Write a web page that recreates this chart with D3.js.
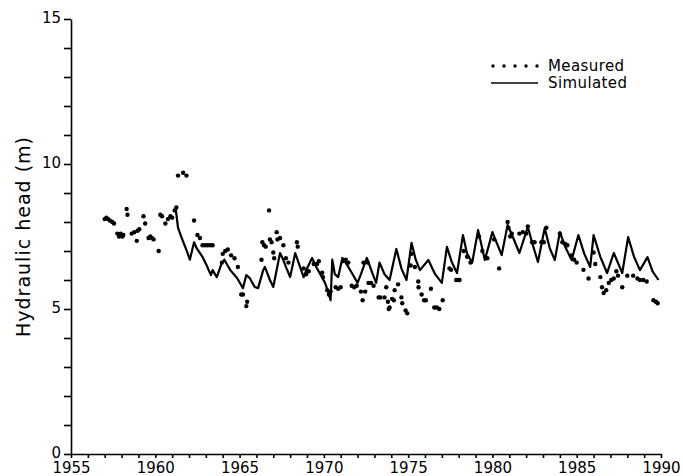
<!DOCTYPE html>
<html>
<head>
<meta charset="utf-8">
<script src="https://cdn.jsdelivr.net/npm/d3@7"></script>
<style>
  body { margin: 0; background: #fff; }
  svg text { font-family: "DejaVu Sans", sans-serif; fill: #000; }
  .axis path, .axis line { stroke: #000; stroke-width: 1.6; }
  .axis text { font-size: 15px; }
</style>
</head>
<body>
<svg class="head" width="683" height="476"></svg>
<script>
// years (decimal) and hydraulic head (m)
const simulated = [
  [1961.2, 8.5], [1961.35, 7.8], [1961.6, 7.4], [1961.9, 6.95], [1962.05, 6.7], [1962.3, 7.3],
  [1962.45, 7.1], [1962.8, 6.8], [1963.05, 6.5], [1963.3, 6.17], [1963.4, 6.34], [1963.65, 6.1],
  [1963.95, 6.6], [1964.1, 6.7], [1964.45, 6.34], [1964.85, 6.07], [1965.2, 5.72], [1965.4, 6.17],
  [1965.6, 6.07], [1965.9, 5.76], [1966.1, 5.72], [1966.4, 6.34], [1966.5, 6.45], [1966.8, 6.0],
  [1967.0, 5.76], [1967.4, 6.93], [1967.55, 6.75], [1967.75, 6.45], [1968.0, 6.1], [1968.3, 6.93],
  [1968.5, 6.6], [1968.8, 6.1], [1969.0, 6.4], [1969.3, 6.76], [1969.55, 6.45], [1970.07, 5.9],
  [1970.25, 5.6], [1970.4, 5.3], [1970.5, 6.7], [1970.65, 6.2], [1970.85, 6.1], [1971.1, 6.76],
  [1971.3, 6.6], [1971.6, 6.3], [1972.0, 5.9], [1972.2, 6.2], [1972.55, 6.76], [1972.9, 6.2],
  [1973.1, 5.9], [1973.3, 6.6], [1973.6, 6.2], [1973.9, 6.0], [1974.3, 7.07], [1974.6, 6.4],
  [1974.9, 6.0], [1975.2, 7.28], [1975.45, 6.7], [1975.7, 6.34], [1976.2, 6.69], [1976.6, 6.2],
  [1977.0, 5.9], [1977.3, 7.14], [1977.6, 6.6], [1977.9, 6.24], [1978.25, 7.55], [1978.5, 6.9],
  [1978.8, 6.6], [1979.15, 7.72], [1979.55, 6.69], [1980.0, 7.65], [1980.55, 6.86], [1980.9, 7.9],
  [1981.2, 7.5], [1981.6, 6.93], [1982.1, 7.83], [1982.4, 7.2], [1982.7, 6.62], [1983.1, 7.79],
  [1983.4, 7.1], [1983.7, 6.69], [1984.0, 7.65], [1984.35, 7.1], [1984.7, 6.69], [1985.1, 7.55],
  [1985.45, 6.9], [1985.8, 6.45], [1986.0, 7.55], [1986.4, 6.8], [1986.8, 6.24], [1987.2, 6.93],
  [1987.7, 6.24], [1988.05, 7.48], [1988.4, 6.8], [1988.75, 6.34], [1989.2, 6.79], [1989.5, 6.3],
  [1989.85, 6.0]
];

const measured = [
  [1957.0, 8.1], [1957.1, 8.15], [1957.2, 8.1], [1957.3, 8.05], [1957.45, 8.0], [1957.55, 7.95],
  [1957.75, 7.6], [1957.85, 7.5], [1957.95, 7.6], [1958.05, 7.5], [1958.1, 7.55],
  [1958.3, 8.45], [1958.35, 8.25],
  [1958.6, 7.6], [1958.75, 7.65], [1958.9, 7.35], [1958.95, 7.7], [1959.05, 7.75],
  [1959.3, 8.2], [1959.4, 7.95],
  [1959.6, 7.45], [1959.7, 7.5], [1959.8, 7.45], [1959.9, 7.4], [1960.2, 7.0],
  [1960.3, 8.25], [1960.4, 8.2], [1960.6, 7.95], [1960.75, 8.1], [1960.9, 8.2], [1961.0, 8.15],
  [1961.15, 8.4], [1961.25, 8.5],
  [1961.35, 9.6], [1961.65, 9.7], [1961.85, 9.6],
  [1962.3, 8.05], [1962.5, 7.55], [1962.65, 7.45],
  [1962.8, 7.2], [1962.95, 7.2], [1963.1, 7.2], [1963.25, 7.2], [1963.4, 7.2],
  [1963.95, 6.6], [1964.0, 6.9], [1964.15, 7.0], [1964.3, 7.05], [1964.5, 6.85], [1964.7, 6.75], [1964.9, 6.45],
  [1965.1, 5.5], [1965.2, 5.5], [1965.45, 5.25], [1965.4, 5.1],
  [1966.3, 6.7], [1966.35, 7.3], [1966.45, 7.2], [1966.55, 7.15], [1966.75, 8.4], [1966.8, 7.4],
  [1966.9, 7.3], [1967.0, 6.95], [1967.05, 6.75],
  [1967.2, 7.65], [1967.25, 7.4], [1967.4, 7.45], [1967.6, 7.2], [1967.75, 6.75], [1967.9, 6.6],
  [1968.4, 7.3], [1968.45, 7.15], [1968.8, 6.4], [1968.95, 6.2], [1969.1, 6.3], [1969.4, 6.55],
  [1969.6, 6.55], [1969.7, 6.65], [1969.9, 6.25], [1969.95, 6.1],
  [1970.2, 5.65], [1970.3, 5.5], [1970.4, 5.6], [1970.7, 5.75], [1970.85, 5.7], [1971.0, 5.75],
  [1971.15, 6.65], [1971.3, 6.7], [1971.45, 6.6],
  [1971.65, 5.8], [1971.8, 5.75], [1971.95, 5.8],
  [1972.2, 5.6], [1972.3, 5.3], [1972.45, 5.6], [1972.35, 6.6], [1972.6, 6.6],
  [1972.65, 5.9], [1972.8, 5.9], [1972.95, 5.8],
  [1973.25, 5.4], [1973.35, 5.4], [1973.6, 5.4], [1973.7, 5.75], [1973.8, 5.25], [1973.85, 5.0], [1973.9, 5.05],
  [1974.05, 5.35], [1974.15, 5.3], [1974.2, 5.65], [1974.4, 5.85], [1974.6, 5.4], [1974.65, 5.2],
  [1974.85, 4.95], [1974.95, 4.85],
  [1975.15, 6.5], [1975.2, 6.9], [1975.4, 6.45], [1975.6, 5.95], [1975.62, 5.75], [1975.8, 5.5],
  [1975.95, 5.3], [1976.05, 5.3],
  [1976.35, 5.7], [1976.55, 5.05], [1976.7, 5.05], [1976.85, 5.0], [1977.05, 5.3],
  [1977.45, 6.4], [1977.55, 6.35], [1977.85, 6.0], [1978.0, 6.0], [1978.05, 6.0],
  [1978.3, 7.0], [1978.5, 6.8], [1978.7, 6.6], [1979.2, 7.5], [1979.4, 7.0], [1979.7, 6.75],
  [1980.1, 7.4], [1980.4, 6.4], [1980.9, 8.0], [1980.95, 7.8], [1981.05, 7.5], [1981.15, 7.6],
  [1981.6, 7.6], [1981.8, 7.65], [1982.0, 7.6], [1982.1, 7.85], [1982.35, 7.3], [1982.5, 7.3],
  [1982.9, 7.3], [1983.05, 7.3], [1983.2, 7.8], [1984.0, 7.6], [1984.15, 7.3], [1984.3, 7.25],
  [1984.45, 7.2], [1984.7, 6.85], [1984.85, 6.7], [1985.0, 6.6], [1985.4, 6.35], [1985.7, 6.05],
  [1986.0, 6.95], [1986.1, 6.55], [1986.4, 6.1], [1986.5, 5.75], [1986.6, 5.55], [1986.75, 5.65],
  [1986.9, 5.9], [1987.05, 6.0], [1987.2, 6.05], [1987.35, 6.3], [1987.45, 6.15], [1987.7, 5.75],
  [1988.0, 6.15], [1988.35, 6.15], [1988.6, 6.05], [1988.75, 6.0], [1988.95, 6.0], [1989.15, 5.95],
  [1989.55, 5.3], [1989.7, 5.25], [1989.8, 5.2]
];

const yearTicks = d3.range(1955, 1991);
const headTicks = d3.range(0, 16);
const legendItems = ["Measured", "Simulated"];

const svg = d3.select("svg.head");
const margin = { top: 19, right: 22, bottom: 22, left: 71 };
const width = +svg.attr("width") - margin.left - margin.right;
const height = +svg.attr("height") - margin.top - margin.bottom;

const x = d3.scaleLinear().domain([1955, 1990]).range([0, width]);
const y = d3.scaleLinear().domain([0, 15]).range([height, 0]);

const g = svg.append("g")
  .attr("transform", `translate(${margin.left}, ${margin.top})`);

const xAxis = d3.axisBottom(x)
  .tickValues(yearTicks)
  .tickSize(4)
  .tickSizeOuter(0)
  .tickFormat(d => d % 5 === 0 ? d : "");

const yAxis = d3.axisLeft(y)
  .tickValues(headTicks)
  .tickSize(7)
  .tickSizeOuter(0)
  .tickFormat(d => d % 5 === 0 ? d : "");

g.append("g")
  .attr("class", "x axis")
  .attr("transform", `translate(0, ${height})`)
  .call(xAxis)
  .call(a => a.selectAll("text").attr("y", 19).attr("dy", 0));

g.append("g")
  .attr("class", "y axis")
  .call(yAxis)
  .call(a => a.selectAll("text").attr("dy", "0.2em"));

g.append("text")
  .attr("transform", `translate(${-41}, ${y(7.5)}) rotate(-90)`)
  .attr("text-anchor", "middle")
  .attr("font-size", 19)
  .attr("letter-spacing", "1px")
  .text("Hydraulic head (m)");

const line = d3.line()
  .x(d => x(d[0]))
  .y(d => y(d[1]));

g.append("path")
  .datum(simulated)
  .attr("fill", "none")
  .attr("stroke", "#000")
  .attr("stroke-width", 2.2)
  .attr("stroke-linejoin", "round")
  .attr("d", line);

g.selectAll(".dot")
  .data(measured)
  .enter().append("circle")
  .attr("class", "dot")
  .attr("cx", d => x(d[0]))
  .attr("cy", d => y(d[1]))
  .attr("r", 2.2);

// legend
const lg = svg.append("g").attr("transform", "translate(491, 66)");
const item = lg.selectAll(".item")
  .data(legendItems)
  .enter().append("g")
  .attr("class", "item")
  .attr("transform", (d, i) => `translate(0, ${i * 17})`);

item.filter((d, i) => i === 0)
  .selectAll("circle")
  .data(d3.range(5))
  .enter().append("circle")
  .attr("cx", d => 2 + d * 11)
  .attr("cy", 0)
  .attr("r", 1.7);

item.filter((d, i) => i === 1)
  .append("line")
  .attr("x1", 0).attr("x2", 47)
  .attr("y1", 0).attr("y2", 0)
  .attr("stroke", "#000")
  .attr("stroke-width", 1.6);

item.append("text")
  .attr("x", 57)
  .attr("y", 5)
  .attr("font-size", 15)
  .attr("letter-spacing", "0.4px")
  .text(d => d);
</script>
</body>
</html>
